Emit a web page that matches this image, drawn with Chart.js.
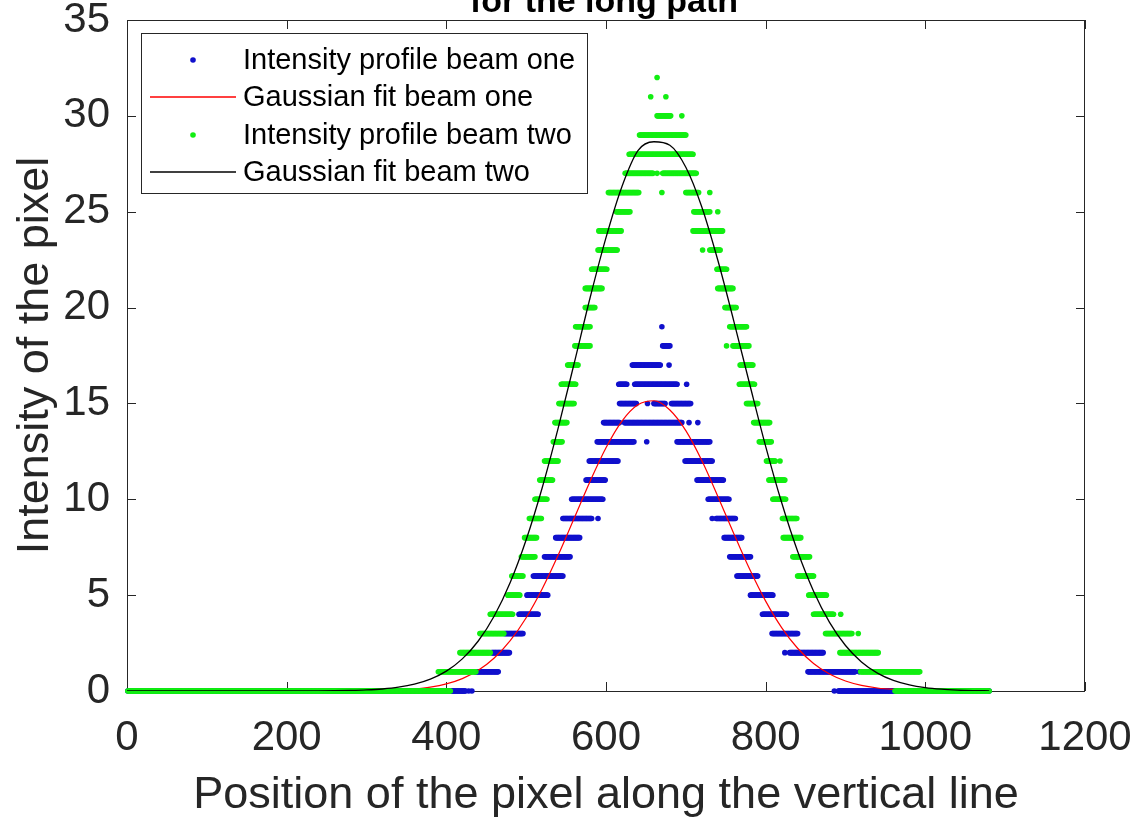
<!DOCTYPE html>
<html>
<head>
<meta charset="utf-8">
<script src="https://cdn.jsdelivr.net/npm/chart.js@4.4.1/dist/chart.umd.min.js"></script>
<style>
  html, body { margin: 0; padding: 0; background: #fff; }
  #wrap { width: 1132px; height: 819px; }
</style>
</head>
<body>
<div id="wrap"><canvas id="beamChart" width="1132" height="819"></canvas></div>
<script>
// x ticks and y ticks
const xTicks = [0, 200, 400, 600, 800, 1000, 1200];
const yTicks = [0, 5, 10, 15, 20, 25, 30, 35];

// beam one dots, read as runs of equal intensity (level, first pixel, last pixel)
const oneLevel = [0,0,0,0,0, 1,1,1, 2,2,2, 3,3, 4,4, 5,5, 6,6, 7,7, 8,8, 9,9,9,9, 10,10, 11,11, 12,12, 13,13,13, 14,14,14,14, 15,15,15,15, 16,16,16, 17,17, 18, 19];
const oneFrom  = [1,428,432,886,891, 436,853,917, 457,824,830, 473,808, 491,796, 501,781, 509,764, 523,755, 537,748, 546,590,733,738, 557,728, 575,714, 579,699, 589,651,689, 597,623,704,715, 617,652,660,682, 616,636,701, 633,679, 671, 670];
const oneTo    = [424,428,432,886,1080, 465,912,917, 479,824,872, 496,840, 515,826, 527,809, 546,790, 555,781, 567,770, 582,590,733,762, 596,754, 599,747, 615,733, 635,651,730, 617,695,704,715, 638,652,674,706, 626,689,701, 668,679, 680, 670];

// beam two dots
const twoLevel = [0,0, 1,1, 2,2, 3,3,3, 4,4,4, 5,5, 6,6, 7,7, 8,8, 9,9, 10,10, 11,11, 12,12,12, 13,13, 14,14, 15,15, 16,16, 17,17, 18,18,18, 19,19, 20,20, 21,21, 22,22, 23,23,23, 24,24, 25,25,25, 26,26,26,26, 27,27,27, 28, 29, 30,30, 31,31, 32];
const twoFrom  = [1,962, 390,919, 417,893, 442,875,916, 455,860,894, 477,854, 482,840, 494,834, 498,822, 504,821, 511,809, 517,804, 523,801,818, 534,792, 536,785, 541,776, 544,767, 552,768, 561,751,759, 562,755, 574,749, 574,740, 582,739, 590,721,730, 591,709, 613,710,740, 603,670,700,730, 624,664,671, 629, 642, 664,695, 656,675, 664];
const twoTo    = [405,1080, 437,993, 455,941, 472,908,916, 483,885,894, 492,876, 496,860, 511,855, 513,844, 519,839, 526,825, 533,824, 540,812,818, 545,807, 551,805, 560,790, 562,786, 565,784, 580,751,779, 580,776, 586,763, 595,759, 601,751, 614,721,743, 619,746, 630,730,740, 641,670,716,730, 659,664,713, 709, 700, 681,695, 656,675, 664];

// gaussian fits
const fitX = [0,20,40,60,80,100,120,140,160,180,200,220,240,260,280,300,320,340,360,380,400,420,440,460,480,500,520,540,560,580,600,620,640,660,680,700,720,740,760,780,800,820,840,860,880,900,920,940,960,980,1000,1020,1040,1060,1080];
const fitOne = [0,0,0,0,0,0,0,0,0,0,0,0,0.001,0.002,0.005,0.012,0.025,0.053,0.107,0.203,0.371,0.648,1.081,1.722,2.625,3.823,5.319,7.075,8.994,10.93,12.69,14.08,14.93,15.14,14.66,13.58,12.02,10.16,8.216,6.346,4.686,3.307,2.23,1.438,0.886,0.521,0.294,0.158,0.081,0.04,0.019,0.008,0.004,0.002,0.001];
const fitTwo = [0,0,0,0,0,0,0,0,0,0.0005,0.001,0.003,0.006,0.013,0.027,0.054,0.105,0.197,0.356,0.618,1.036,1.675,2.608,3.913,5.660,7.889,10.59,13.70,17.07,20.50,23.65,26.32,28.19,28.65,28.47,27.32,25.25,22.48,19.31,16.00,12.76,9.829,7.290,5.208,3.582,2.375,1.518,0.935,0.555,0.318,0.175,0.093,0.048,0.023,0.011];

const legendLabels = ["Intensity profile beam one", "Gaussian fit beam one", "Intensity profile beam two", "Gaussian fit beam two"];

const blue = "#1010cc";
const green = "#12ee12";
const axisColor = "#262626";
const fontFamily = "'Liberation Sans', Arial, Helvetica, sans-serif";

function dots(levels, from, to) {
    const pts = [];
    for (let i = 0; i < levels.length; i++) {
        for (let x = from[i]; x <= to[i]; x++) pts.push({ x: x, y: levels[i] });
    }
    return pts;
}

function fitPoints(ys) {
    return fitX.map((x, i) => ({ x: x, y: ys[i] }));
}

// box, inward ticks, title and legend like the matlab figure
const matlabAxes = {
    id: "matlabAxes",
    beforeDatasetsDraw(chart) {
        const { ctx, chartArea: a, scales } = chart;
        ctx.save();
        ctx.strokeStyle = axisColor;
        ctx.lineWidth = 1;
        ctx.strokeRect(a.left + 0.5, a.top + 0.5, a.right - a.left - 1, a.bottom - a.top);
        ctx.beginPath();
        xTicks.forEach(v => {
            const px = Math.round(scales.x.getPixelForValue(v)) + 0.5;
            ctx.moveTo(px, a.bottom); ctx.lineTo(px, a.bottom - 9);
            ctx.moveTo(px, a.top); ctx.lineTo(px, a.top + 9);
        });
        yTicks.forEach(v => {
            const py = Math.round(scales.y.getPixelForValue(v)) + 0.5;
            ctx.moveTo(a.left, py); ctx.lineTo(a.left + 9, py);
            ctx.moveTo(a.right, py); ctx.lineTo(a.right - 9, py);
        });
        ctx.stroke();
        ctx.restore();
    },
    afterDraw(chart) {
        const { ctx } = chart;
        ctx.save();
        // title, mostly cut off at the top
        ctx.fillStyle = "#000";
        ctx.font = "bold 34px " + fontFamily;
        ctx.textAlign = "center";
        ctx.textBaseline = "alphabetic";
        ctx.fillText("for the long path", 604, 12);

        // legend
        ctx.fillStyle = "#fff";
        ctx.fillRect(141, 33, 446, 160);
        ctx.strokeStyle = axisColor;
        ctx.lineWidth = 1;
        ctx.strokeRect(141.5, 33.5, 446, 160);
        const rows = [60, 97, 135, 172];
        const styles = [
            { dot: blue }, { line: "#ff0000" }, { dot: green }, { line: "#000000" }
        ];
        ctx.font = "29px " + fontFamily;
        ctx.textAlign = "left";
        ctx.textBaseline = "middle";
        rows.forEach((y, i) => {
            const s = styles[i];
            if (s.dot) {
                ctx.fillStyle = s.dot;
                ctx.beginPath();
                ctx.arc(193, y, 2.8, 0, Math.PI * 2);
                ctx.fill();
            } else {
                ctx.strokeStyle = s.line;
                ctx.lineWidth = 1.5;
                ctx.beginPath();
                ctx.moveTo(150, y);
                ctx.lineTo(236, y);
                ctx.stroke();
            }
            ctx.fillStyle = "#000";
            ctx.fillText(legendLabels[i], 243, y + 1);
        });
        ctx.restore();
    }
};

const ctx = document.getElementById("beamChart");
new Chart(ctx, {
    type: "scatter",
    data: {
        datasets: [
            {
                label: legendLabels[0],
                data: dots(oneLevel, oneFrom, oneTo),
                backgroundColor: blue,
                borderWidth: 0,
                pointRadius: 2.8,
                clip: false,
                order: 4
            },
            {
                label: legendLabels[1],
                data: fitPoints(fitOne),
                type: "line",
                borderColor: "#ff0000",
                borderWidth: 1.2,
                pointRadius: 0,
                fill: false,
                cubicInterpolationMode: "monotone",
                order: 3
            },
            {
                label: legendLabels[2],
                data: dots(twoLevel, twoFrom, twoTo),
                backgroundColor: green,
                borderWidth: 0,
                pointRadius: 2.8,
                clip: false,
                order: 2
            },
            {
                label: legendLabels[3],
                data: fitPoints(fitTwo),
                type: "line",
                borderColor: "#000000",
                borderWidth: 1.3,
                pointRadius: 0,
                fill: false,
                cubicInterpolationMode: "monotone",
                order: 1
            }
        ]
    },
    options: {
        responsive: false,
        animation: false,
        events: [],
        layout: { padding: { top: 20, right: 47, bottom: 0, left: 0 } },
        plugins: {
            legend: { display: false },
            tooltip: { enabled: false }
        },
        scales: {
            x: {
                type: "linear",
                min: 0,
                max: 1200,
                afterBuildTicks: scale => { scale.ticks = xTicks.map(v => ({ value: v })); },
                ticks: {
                    color: axisColor,
                    padding: 22,
                    maxRotation: 0,
                    callback: v => String(v),
                    font: { family: fontFamily, size: 42 }
                },
                grid: { display: false, drawTicks: false },
                border: { display: false },
                title: {
                    display: true,
                    text: "Position of the pixel along the vertical line",
                    color: axisColor,
                    padding: { top: 0, bottom: -4 },
                    font: { family: fontFamily, size: 45 }
                },
                afterFit: scale => {
                    scale.height = 128;
                    scale.paddingLeft = 0;
                    scale.paddingRight = 0;
                }
            },
            y: {
                type: "linear",
                min: 0,
                max: 35,
                afterBuildTicks: scale => { scale.ticks = yTicks.map(v => ({ value: v })); },
                ticks: {
                    color: axisColor,
                    padding: 17,
                    callback: v => String(v),
                    font: { family: fontFamily, size: 42 }
                },
                grid: { display: false, drawTicks: false },
                border: { display: false },
                title: {
                    display: true,
                    text: "Intensity of the pixel",
                    color: axisColor,
                    padding: { top: 9, bottom: 0 },
                    font: { family: fontFamily, size: 45 }
                },
                afterFit: scale => {
                    scale.width = 127;
                    scale.paddingTop = 0;
                    scale.paddingBottom = 0;
                }
            }
        }
    },
    plugins: [matlabAxes]
});
</script>
</body>
</html>
